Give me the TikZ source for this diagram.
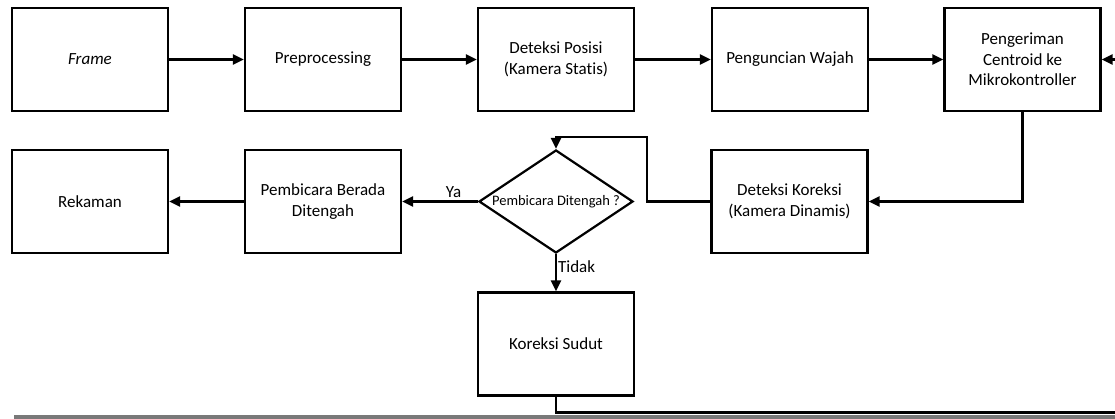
\documentclass[tikz,border=0pt]{standalone}
\usepackage{fontspec}
\setmainfont{Carlito}[Ligatures=NoCommon]
\usetikzlibrary{shapes.geometric,arrows.meta}
\begin{document}
\begin{tikzpicture}[x=1pt,y=-1pt,
  box/.style={draw,line width=2.2pt,minimum width=156pt,minimum height=103pt,
    align=center,inner sep=2pt,font=\fontsize{17}{20.5}\selectfont},
  decision/.style={draw,line width=2.2pt,diamond,aspect=1.5,inner sep=0pt,
    minimum width=154pt,minimum height=103pt,font=\fontsize{14.5}{17}\selectfont},
  flow/.style={line width=2.2pt,-{Triangle[length=11pt,width=10pt]}},
  lbl/.style={font=\fontsize{17}{20}\selectfont,inner sep=1pt}]
\useasboundingbox (0,0) rectangle (1115,419);
\clip (0,0) rectangle (1115,419);

% top row
\node[box] (frame) at (90,59.5) {\itshape Frame};
\node[box] (pre)   at (323,59.5) {Preprocessing};
\node[box] (dpos)  at (556,59.5) {Deteksi Posisi\\(Kamera Statis)};
\node[box] (kunci) at (790,59.5) {Penguncian Wajah};
\node[box] (kirim) at (1022.5,59.5) {Pengeriman\\Centroid ke\\Mikrokontroller};

% second row
\node[box] (rek)   at (90,201.5) {Rekaman};
\node[box] (tengah) at (323,201.5) {Pembicara Berada\\Ditengah};
\node[decision] (dm) at (556,201.5) {Pembicara Ditengah ?};
\node[box] (dkor)  at (789.5,201.5) {Deteksi Koreksi\\(Kamera Dinamis)};

% correction step
\node[box] (sudut) at (556,344) {Koreksi Sudut};

% connectors
\draw[flow] (frame) -- (pre);
\draw[flow] (pre) -- (dpos);
\draw[flow] (dpos) -- (kunci);
\draw[flow] (kunci) -- (kirim);
\draw[flow] (kirim.south) |- (dkor.east);
\draw[flow] (dkor.west) -- (647,201.5) -- (647,137) -| (dm.north);
\draw[flow] (dm.west) -- node[lbl,above,pos=0.32,yshift=2pt] {Ya} (tengah.east);
\draw[flow] (tengah) -- (rek);
\draw[flow] (dm.south) -- node[lbl,right,pos=0.35] {Tidak} (sudut.north);
\draw[flow] (sudut.south) -- (556,412.5) -- (1125,412.5) -- (1125,59.5) -- (kirim.east);

% bottom rule
\fill[gray!95!black] (14,415) rectangle (1115,419);
\end{tikzpicture}
\end{document}
